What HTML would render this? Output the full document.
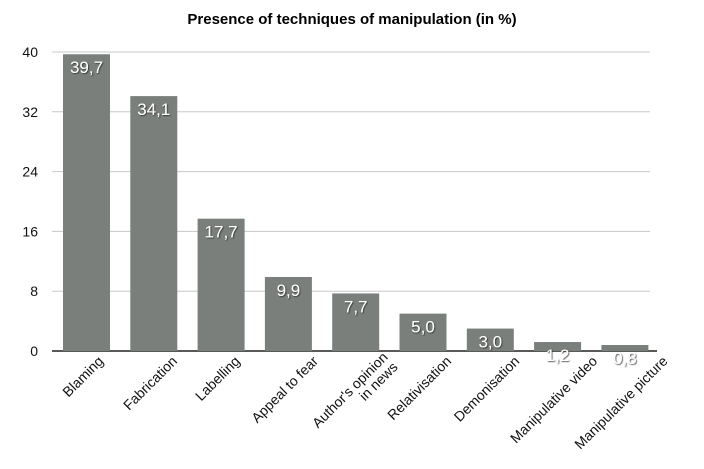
<!DOCTYPE html>
<html><head><meta charset="utf-8"><style>
html,body{margin:0;padding:0;background:#fff;}
svg{display:block;font-family:"Liberation Sans",sans-serif;}
</style></head><body>
<svg id="chart" width="704" height="469" viewBox="0 0 704 469">
<defs><filter id="sh" x="-20%" y="-20%" width="140%" height="140%"><feDropShadow dx="0.8" dy="0.8" stdDeviation="0.6" flood-color="#222" flood-opacity="0.9"/></filter></defs>
<text x="352" y="24" text-anchor="middle" font-size="15" font-weight="bold" fill="#000">Presence of techniques of manipulation (in %)</text>
<g id="grid"></g><g id="bars"></g><g id="labels"></g>
</svg>
<script>
const categories = ["Blaming","Fabrication","Labelling","Appeal to fear","Author's opinion|in news","Relativisation","Demonisation","Manipulative video","Manipulative picture"];
const values = [39.7,34.1,17.7,9.9,7.7,5.0,3.0,1.2,0.8];
const valueLabels = ["39,7","34,1","17,7","9,9","7,7","5,0","3,0","1,2","0,8"];
const yTicks = [0,8,16,24,32,40];
const NS="http://www.w3.org/2000/svg";
const x0=52, x1=657, y0=351, yTop=52, yMax=40;
const y=v=>y0-(v/yMax)*(y0-yTop);
const step=67.3, bw=47, firstX=63;
const xb=i=>firstX+i*step;
function mk(t,a,p){const e=document.createElementNS(NS,t);for(const k in a)e.setAttribute(k,a[k]);p.appendChild(e);return e;}
const grid=document.getElementById('grid'),bars=document.getElementById('bars'),labels=document.getElementById('labels');
yTicks.forEach(t=>{
  if(t>0){const l=mk('line',{x1:x0,x2:650,y1:y(t),y2:y(t),stroke:'#c8c8c8','stroke-width':1},grid);
  
  }
  const tx=mk('text',{x:38,y:y(t)+5,'text-anchor':'end','font-size':14,fill:'#111'},grid);
  tx.textContent=t;
  
  
});
values.forEach((v,i)=>{
  const r=mk('rect',{x:xb(i),y:y(v),width:bw,height:y0-y(v),fill:'#7b7f7c'},bars);
  
  
  const vt=mk('text',{x:xb(i)+bw/2,y:y(v)+19,'text-anchor':'middle','font-size':17,fill:'#fff',filter:'url(#sh)'},bars);
  vt.textContent=valueLabels[i];
  
  
  const g=mk('text',{'text-anchor':'end','font-size':14,fill:'#111'},labels);
  const parts=categories[i].split('|');
  parts.forEach((p,j)=>{const ts=mk('tspan',{x:0,dy:j===0?0:14},g);ts.textContent=p;});
  let L=0;try{L=g.getComputedTextLength? Math.max(...Array.from(g.children).map(c=>c.getComputedTextLength())):100;}catch(e){L=100;}
  let cx=xb(i)+bw/2+0.35*L, cy=362;
  if(parts.length>1){cx-=2;cy-=4;}
  g.setAttribute('transform',`translate(${cx},${cy}) rotate(-45)`);
  
  
});
const ax=mk('line',{x1:x0,x2:x1,y1:y0,y2:y0,stroke:'#222','stroke-width':1.5},grid);


</script>
</body></html>
